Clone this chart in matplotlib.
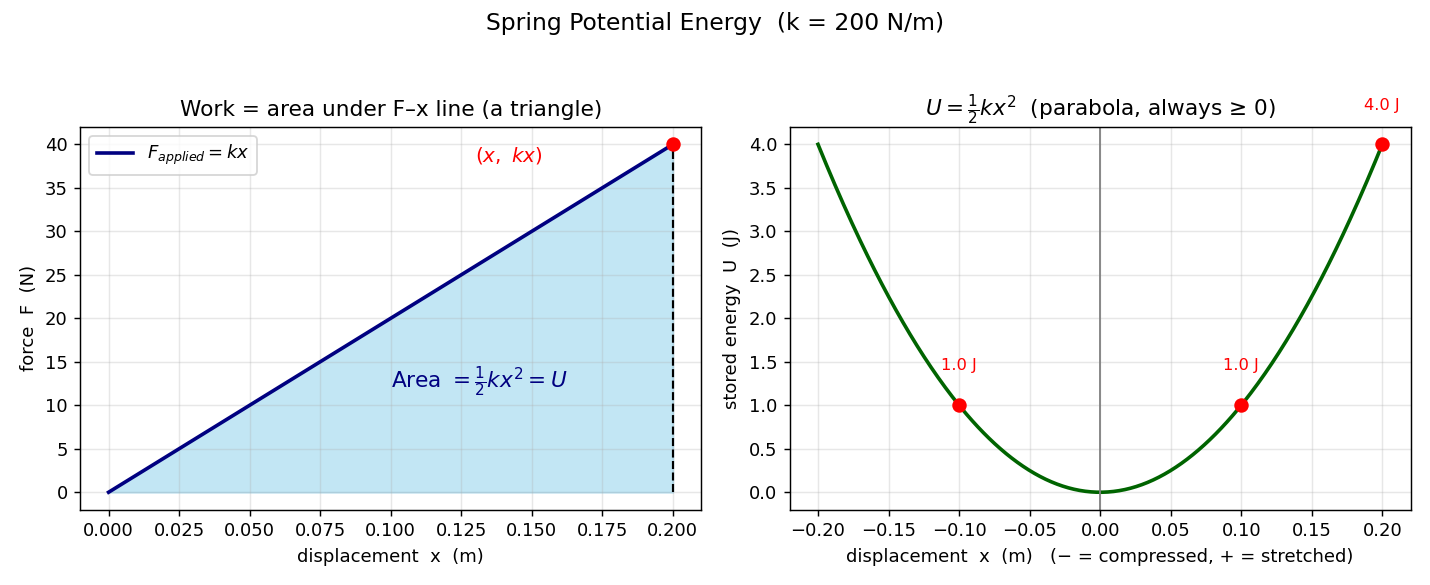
import numpy as np
import matplotlib
matplotlib.use("Agg")
import matplotlib.pyplot as plt

# spring constant (N/m) and displacement range (m)
k = 200
x_max = 0.2
x_left = np.linspace(0, x_max, 200)
x_right = np.linspace(-x_max, x_max, 400)

# marked points on the energy curve
x_marks = [-0.1, 0.1, 0.2]

F = k * x_left
U = 0.5 * k * x_right ** 2

fig, (ax1, ax2) = plt.subplots(1, 2, figsize=(11, 4.5), dpi=130)

# left: force vs displacement
ax1.fill_between(x_left, 0, F, color="skyblue", alpha=0.5)
ax1.plot(x_left, F, color="navy", lw=2, label=r"$F_{applied} = kx$")
ax1.plot([x_max, x_max], [0, k * x_max], "k--", lw=1.2)
ax1.plot(x_max, k * x_max, "o", color="red", ms=7)
ax1.text(0.13, 38, r"$(x,\ kx)$", color="red", fontsize=11)
ax1.text(0.1, 12, r"Area $=\frac{1}{2}kx^2 = U$", color="navy", fontsize=12)
ax1.set_xlabel("displacement  x  (m)")
ax1.set_ylabel("force  F  (N)")
ax1.set_title("Work = area under F–x line (a triangle)")
ax1.legend(loc="upper left")
ax1.grid(alpha=0.3)

# right: stored energy parabola
ax2.plot(x_right, U, color="darkgreen", lw=2)
ax2.axvline(0, color="gray", lw=1)
for xm in x_marks:
    um = 0.5 * k * xm ** 2
    ax2.plot(xm, um, "o", color="red", ms=7)
    ax2.text(xm, um + 0.4, f"{um:.1f} J", color="red", fontsize=9, ha="center")
ax2.set_xlabel("displacement  x  (m)   (− = compressed, + = stretched)")
ax2.set_ylabel("stored energy  U  (J)")
ax2.set_title(r"$U = \frac{1}{2}kx^2$  (parabola, always ≥ 0)")
ax2.grid(alpha=0.3)

fig.suptitle(f"Spring Potential Energy  (k = {k} N/m)", fontsize=13)
plt.tight_layout()
fig.subplots_adjust(top=0.783)
plt.savefig("out.png")
